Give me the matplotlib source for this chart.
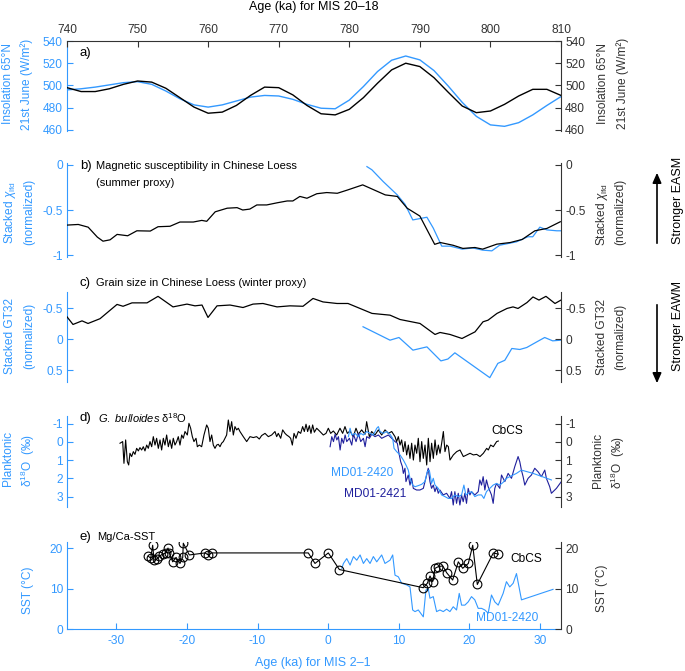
import matplotlib
matplotlib.use('Agg')
import matplotlib.pyplot as plt

plt.rcParams['font.family'] = ['Liberation Sans', 'DejaVu Sans']
plt.rcParams['mathtext.fontset'] = 'custom'
plt.rcParams['mathtext.rm'] = 'Liberation Sans'
plt.rcParams['mathtext.it'] = 'Liberation Sans:italic'
plt.rcParams['axes.unicode_minus'] = False

BLUE = '#3399ff'
NAVY = '#1f1f9c'
DARK = '#333333'

# ---- data (blue = MIS 2-1, bottom axis ; black = MIS 20-18, top axis)
# a) insolation 65N 21st June
ins_blue_age = [-37, -35, -33, -31, -29, -27, -25, -23, -21, -19, -17, -15, -13, -11, -9, -7, -5, -3,
                -1, 1, 3, 5, 7, 9, 11, 13, 15, 17, 19, 21, 23, 25, 27, 29, 31, 33]
ins_blue = [496, 497, 498.5, 500.5, 502.5, 503.4, 501, 495, 488, 482.5, 480.5, 482.5, 486, 489.5, 491, 490.5,
            487.5, 483, 479.5, 479, 486.8, 499, 512.5, 522.7, 526.5, 523, 513.4, 499.6, 484.8, 472.2, 464.5,
            463.2, 466.5, 473.5, 482, 490]
ins_black_age = [740, 742, 744, 746, 748, 750, 752, 754, 756, 758, 760, 762, 764, 766, 768, 770, 772, 774,
                 776, 778, 780, 782, 784, 786, 788, 790, 792, 794, 796, 798, 800, 802, 804, 806, 808, 810]
ins_black = [498, 494.5, 494.5, 497, 501, 504, 503, 497.5, 489, 480.5, 475, 476, 482, 491, 498.5, 498, 491.5,
             482, 474.5, 473.5, 478.5, 489, 502, 514, 520, 517, 507, 494, 481.5, 475.5, 477, 483, 490.5,
             496.5, 496.5, 491]

# b) magnetic susceptibility
chi_black_age = [740.0, 741.6, 743.0, 744.3, 745.1, 746.1, 747.1, 748.6, 749.9, 751.8, 752.9, 754.6, 756.0,
                 757.9, 759.1, 759.8, 761.0, 762.7, 764.1, 764.9, 765.9, 766.9, 768.3, 769.8, 771.2, 772.0,
                 773.0, 774.0, 775.4, 776.8, 778.3, 779.7, 781.9, 785.1, 786.8, 788.2, 790.0, 792.1, 792.9,
                 794.7, 796.1, 797.8, 798.9, 800.9, 802.8, 804.5, 806.3, 808.0, 809.9]
chi_black = [-0.667, -0.66, -0.69, -0.80, -0.845, -0.83, -0.77, -0.785, -0.73, -0.733, -0.685, -0.68, -0.633,
             -0.633, -0.615, -0.625, -0.52, -0.48, -0.474, -0.50, -0.49, -0.444, -0.444, -0.42, -0.40, -0.40,
             -0.35, -0.37, -0.32, -0.307, -0.315, -0.28, -0.222, -0.333, -0.35, -0.48, -0.567, -0.88, -0.86,
             -0.89, -0.925, -0.915, -0.933, -0.878, -0.86, -0.826, -0.73, -0.704, -0.63]
chi_blue_age = [5.5, 6.2, 7.8, 9.8, 10.9, 12.0, 14.0, 14.9, 16.1, 17.3, 19.0, 20.5, 21.9, 23.2, 24.3, 26.7,
                28.3, 29.0, 30.0, 31.0, 32.4, 33.0]
chi_blue = [-0.02, -0.055, -0.185, -0.333, -0.437, -0.61, -0.58, -0.70, -0.90, -0.90, -0.933, -0.92, -0.944,
            -0.952, -0.89, -0.852, -0.796, -0.796, -0.69, -0.72, -0.73, -0.73]

# c) grain size GT32
gs_black_age = [740.0, 740.85, 742.13, 742.98, 744.68, 747.09, 747.94, 749.21, 751.34, 752.9, 755.02, 757.0,
                758.14, 759.13, 759.98, 761.26, 763.1, 764.94, 766.36, 767.77, 769.76, 771.6, 773.44, 774.86,
                776.28, 778.26, 779.82, 783.22, 785.77, 787.19, 790.02, 792.15, 792.86, 794.27, 795.97, 797.82,
                798.95, 799.66, 800.93, 802.35, 803.2, 803.91, 805.18, 806.03, 806.88, 807.87, 809.15, 810.0]
gs_black = [-0.36, -0.237, -0.295, -0.253, -0.33, -0.56, -0.53, -0.585, -0.585, -0.69, -0.52, -0.565, -0.537,
            -0.55, -0.35, -0.537, -0.55, -0.51, -0.565, -0.575, -0.52, -0.537, -0.53, -0.656, -0.60, -0.575,
            -0.575, -0.415, -0.387, -0.317, -0.253, -0.076, -0.108, -0.076, -0.011, -0.118, -0.28, -0.306,
            -0.415, -0.495, -0.52, -0.495, -0.59, -0.68, -0.63, -0.69, -0.575, -0.63]
gs_blue_age = [4.95, 8.77, 10.04, 12.02, 14.0, 15.98, 16.97, 17.96, 22.91, 24.05, 25.04, 26.03, 27.16, 28.15,
               29.56, 30.69, 31.82, 32.96]
gs_blue = [-0.2, 0.016, -0.027, 0.177, 0.124, 0.35, 0.32, 0.22, 0.62, 0.39, 0.34, 0.15, 0.166, 0.134, 0.044,
           -0.027, 0.027, 0.016]

# d) planktonic d18O (age, value)
d18o_cbcs = [
    (747.51, 0.07), (747.89, -0.02), (748.07, 1.17), (748.31, -0.11), (748.55, 1.08), (748.74, 1.26),
    (748.92, 0.62), (749.16, 0.80), (749.40, 0.53), (749.63, 0.68), (749.87, 0.35), (750.11, 0.49),
    (750.34, 0.31), (750.58, 0.44), (750.81, 0.26), (751.05, 0.49), (751.29, 0.17), (751.52, 0.35),
    (751.76, -0.02), (752.00, 0.26), (752.23, -0.29), (752.47, 0.17), (752.70, -0.20), (752.94, 0.35),
    (753.18, -0.11), (753.41, 0.44), (753.65, -0.20), (753.88, 0.17), (754.12, -0.38), (754.36, 0.26),
    (754.59, -0.11), (754.83, 0.35), (755.06, -0.20), (755.30, 0.17), (755.54, -0.02), (755.77, -0.29),
    (756.01, 0.17), (756.25, -0.38), (756.48, -0.20), (756.72, -0.57), (757.05, -0.38), (757.28, -1.02),
    (757.52, -0.75), (757.76, -0.29), (757.99, -0.02), (758.28, -0.20), (758.47, 0.26), (758.75, 0.17),
    (759.08, 0.26), (759.41, -0.38), (759.79, -0.93), (760.02, -0.75), (760.26, -0.02), (760.50, -0.38),
    (760.73, 0.17), (760.97, 0.35), (761.21, 0.17), (761.44, 0.13), (761.68, 0.26), (761.91, 0.07),
    (762.15, -0.02), (762.39, -0.20), (762.62, -0.38), (762.86, -1.20), (763.10, -0.57), (763.33, -1.11),
    (763.57, -0.38), (763.80, -0.84), (764.04, -0.66), (764.28, -0.75), (764.51, -0.57), (764.98, -0.29),
    (765.46, -0.02), (765.93, -0.29), (766.40, -0.24), (766.87, -0.29), (767.25, -0.16), (767.58, -0.35),
    (768.06, -0.47), (768.53, -0.29), (769.00, -0.38), (769.47, -0.57), (769.71, -0.29), (769.94, -0.47),
    (770.28, -0.20), (770.56, -0.66), (770.89, -0.47), (771.13, -0.38), (771.46, -0.29), (771.69, -0.20),
    (771.93, 0.17), (772.17, -0.47), (772.45, -0.20), (772.78, -0.57), (773.11, -0.47), (773.39, -0.84),
    (773.63, -0.57), (773.87, -0.97), (774.10, -0.57), (774.34, -0.89), (774.57, -0.47), (774.81, -0.93),
    (775.05, -0.53), (775.38, -0.75), (775.85, -0.57), (776.32, -0.38), (776.70, -0.47), (777.03, -0.75),
    (777.36, -0.47), (777.74, -0.60), (778.21, -0.38), (778.68, -0.75), (779.06, -0.47), (779.39, -0.84),
    (779.72, -0.47), (780.10, -0.60), (780.57, -0.29), (780.95, -0.75), (781.28, -0.42), (781.75, -0.66),
    (782.23, -0.42), (782.46, -1.11), (782.84, -0.29), (783.17, -0.57), (783.64, -0.38), (784.12, -0.66),
    (784.59, -0.38), (785.06, -0.66), (785.53, -0.47), (786.01, -0.57), (786.48, -0.29), (786.71, -0.02),
    (786.95, -0.29), (787.19, 0.17), (787.42, -0.11), (787.66, 0.53), (787.90, -0.02), (788.13, 0.71),
    (788.37, 0.17), (788.60, 0.90), (788.84, 0.07), (789.08, 0.99), (789.31, 0.17), (789.55, 0.62),
    (789.78, -0.20), (790.02, 1.08), (790.26, -0.02), (790.49, 0.90), (790.73, 0.17), (790.97, 1.26),
    (791.20, -0.20), (791.44, 1.08), (791.67, 0.07), (791.91, 0.90), (792.15, -0.11), (792.38, 0.71),
    (792.62, 0.17), (792.86, 0.62), (793.09, 0.07), (793.33, -0.57), (793.56, 0.53), (793.80, 0.17),
    (794.04, 0.26), (794.27, 0.99), (794.74, 0.71), (795.22, 0.53), (795.69, 0.44), (796.16, 0.80),
    (796.63, 0.71), (797.11, 0.62), (797.58, 0.71), (798.05, 0.68), (798.52, 0.80), (799.00, 0.62),
    (799.47, 0.35), (799.70, 0.44), (800.03, 0.17), (800.41, 0.26), (800.88, -0.02), (801.12, -0.05)]

d18o_2421 = [
    (0.28, 0.26), (0.52, -0.29), (0.76, -0.02), (0.99, -0.42), (1.23, -0.11), (1.46, -0.29), (1.70, 0.44),
    (1.93, -0.20), (2.17, 0.07), (2.41, -0.38), (2.64, -0.02), (3.02, -0.20), (3.35, 0.17), (3.58, -0.42),
    (3.96, -0.02), (4.29, -0.47), (4.62, -0.02), (5.00, -0.20), (5.24, 0.26), (5.47, -0.29), (5.85, -0.20),
    (6.18, -0.42), (6.65, -0.29), (7.12, -0.38), (7.59, -0.20), (8.06, -0.29), (8.54, -0.38), (9.01, -0.20),
    (9.48, -0.02), (9.81, 0.07), (10.04, 0.62), (10.28, 1.08), (10.52, 1.35), (10.66, 1.72), (10.89, 1.44),
    (11.03, 2.17), (11.36, 1.81), (11.60, 2.36), (11.84, 1.99), (12.07, 2.54), (12.54, 2.63), (13.01, 2.63),
    (13.49, 2.54), (13.96, 1.81), (14.19, 1.44), (14.43, 2.17), (14.66, 2.54), (14.90, 2.36), (15.14, 2.72),
    (15.37, 2.45), (15.61, 2.81), (15.84, 2.63), (16.31, 2.90), (16.79, 2.81), (17.26, 3.09), (17.49, 2.72),
    (17.73, 3.45), (17.96, 2.72), (18.20, 3.36), (18.44, 2.81), (18.67, 3.45), (18.91, 2.90), (19.14, 3.27),
    (19.38, 2.81), (19.61, 3.36), (19.85, 2.54), (20.09, 2.90), (20.32, 2.72), (20.79, 2.90), (21.27, 2.72),
    (21.50, 2.08), (21.74, 2.36), (21.97, 1.90), (22.21, 2.63), (22.44, 2.08), (22.68, 2.45), (23.15, 2.90),
    (23.39, 3.36), (23.62, 2.54), (23.86, 2.27), (24.33, 2.54), (24.57, 1.81), (25.04, 2.17), (25.51, 1.72),
    (25.98, 1.99), (26.45, 1.35), (26.92, 0.80), (27.16, 1.08), (27.39, 1.54), (27.63, 1.90), (27.87, 2.36),
    (28.34, 1.99), (28.81, 1.81), (29.28, 1.44), (29.75, 1.63), (30.22, 1.90), (30.70, 1.54), (30.93, 1.99),
    (31.40, 2.45), (31.64, 2.81), (32.35, 2.54), (33.05, 2.17)]

d18o_2420 = [
    (2.88, -0.29), (3.11, -0.75), (3.35, -0.38), (3.82, -0.47), (4.29, -0.29), (4.62, -0.47), (5.00, -0.38),
    (5.47, -0.57), (5.94, -0.47), (6.41, -0.38), (6.89, -0.75), (7.12, -0.84), (7.36, -0.57), (7.83, -0.47),
    (8.30, -0.57), (8.77, -0.42), (9.15, -0.20), (9.34, 0.35), (9.71, 0.53), (10.19, 0.71), (10.66, 0.99),
    (11.03, 1.26), (11.36, 1.54), (11.60, 1.99), (11.98, 2.36), (12.31, 2.45), (12.78, 2.39), (13.25, 2.32),
    (13.72, 2.17), (14.05, 1.63), (14.34, 1.54), (14.66, 2.27), (14.90, 1.99), (15.14, 2.36), (15.61, 2.54),
    (16.08, 2.90), (16.55, 2.99), (17.02, 3.09), (17.49, 3.09), (17.96, 2.90), (18.44, 2.99), (18.91, 2.90),
    (19.24, 2.36), (19.52, 2.90), (19.85, 2.81), (20.32, 2.72), (20.79, 2.99), (21.27, 2.90), (21.74, 2.90),
    (22.07, 3.09), (22.44, 2.72), (22.91, 2.54), (23.39, 2.36), (23.86, 2.27), (24.33, 2.36), (24.80, 2.21),
    (25.27, 1.99), (25.74, 1.90), (26.22, 1.81), (26.69, 1.72), (27.39, 1.54), (29.05, 1.72), (31.64, 2.08)]

# e) Mg/Ca SST (age, value)
sst_cbcs = [
    (751.52, 18.0), (751.86, 17.5), (752.14, 20.7), (752.33, 17.0), (752.71, 17.2), (753.08, 18.0),
    (753.56, 18.5), (754.03, 18.8), (754.31, 20.0), (754.50, 18.7), (754.98, 16.6), (755.45, 17.7),
    (756.01, 16.2), (756.40, 17.7), (756.48, 21.2), (757.33, 18.3), (759.56, 18.8), (760.02, 18.3),
    (760.50, 18.8), (774.19, 18.8), (775.14, 16.2), (777.03, 18.8), (778.59, 14.7), (790.49, 10.2),
    (791.06, 11.3), (791.44, 13.1), (791.82, 11.7), (792.15, 15.0), (792.61, 15.4), (793.24, 15.6),
    (793.80, 13.9), (794.65, 12.1), (795.45, 16.6), (796.07, 15.0), (796.87, 16.2), (797.49, 20.7),
    (798.14, 11.0), (800.41, 18.8), (801.12, 18.5)]

sst_2420 = [
    (1.94, 15.0), (2.17, 16.2), (2.64, 17.4), (3.11, 15.8), (3.59, 17.9), (4.06, 17.0), (4.53, 18.3),
    (5.00, 16.2), (5.47, 17.4), (5.94, 16.2), (6.41, 17.9), (6.89, 16.6), (7.59, 18.3), (8.06, 16.2),
    (8.77, 17.0), (9.15, 18.3), (9.48, 13.3), (9.95, 12.9), (10.42, 11.3), (11.13, 10.9), (11.60, 10.4),
    (11.98, 4.7), (12.31, 4.3), (12.78, 4.7), (13.49, 3.0), (13.86, 9.6), (14.19, 10.0), (14.43, 7.6),
    (14.90, 8.0), (15.37, 4.3), (15.84, 4.7), (16.32, 4.3), (16.79, 4.9), (17.26, 4.3), (17.73, 5.5),
    (18.20, 4.7), (18.58, 8.8), (18.91, 5.9), (19.38, 5.9), (19.85, 6.7), (20.32, 8.0), (20.79, 7.2),
    (21.27, 5.1), (21.74, 5.1), (22.21, 4.7), (22.68, 3.9), (23.15, 8.4), (23.62, 6.7), (24.10, 5.9),
    (24.80, 8.8), (25.27, 11.7), (25.74, 10.4), (26.22, 11.3), (26.69, 13.7), (27.40, 7.2), (31.87, 9.8)]

# ticks
top_ticks = [740, 750, 760, 770, 780, 790, 800, 810]
bottom_ticks = [-30, -20, -10, 0, 10, 20, 30]
ins_ticks = [460, 480, 500, 520, 540]
chi_ticks = [-1, -0.5, 0]
chi_labels = ['-1', '-0.5', '0']
gs_ticks = [-0.5, 0, 0.5]
gs_labels = ['-0.5', '0', '0.5']
d18o_ticks = [-1, 0, 1, 2, 3]
sst_ticks = [0, 10, 20]

W, H = 685, 671
fig = plt.figure(figsize=(W / 100, H / 100), dpi=100)


def fx(px):
    return px / W


def fy(py):
    return 1 - py / H


def panel(top, bottom, ylim, yticks, ylabels=None):
    r = [fx(67), fy(bottom), 494 / W, (bottom - top) / H]
    axb = fig.add_axes(r)
    axk = fig.add_axes(r)
    for ax in (axb, axk):
        ax.patch.set_visible(False)
        for s in ax.spines.values():
            s.set_visible(False)
        ax.set_ylim(*ylim)
        ax.set_yticks(yticks)
        if ylabels is not None:
            ax.set_yticklabels(ylabels)
        ax.tick_params(axis='x', bottom=False, labelbottom=False, top=False, labeltop=False)
    axb.set_xlim(-37, 33)
    axk.set_xlim(740, 810)
    axb.spines['left'].set_visible(True)
    axb.spines['left'].set_color(BLUE)
    axb.tick_params(axis='y', direction='in', colors=BLUE, labelsize=8.6, length=4, width=0.8, pad=3)
    axk.spines['right'].set_visible(True)
    axk.spines['right'].set_color(DARK)
    axk.yaxis.tick_right()
    axk.tick_params(axis='y', direction='in', colors=DARK, labelsize=8.6, length=4, width=0.8, pad=3)
    return axb, axk


# a) insolation
axb, axk = panel(41, 131, (459, 540), ins_ticks)
axb.plot(ins_blue_age, ins_blue, color=BLUE, lw=1.0)
axk.plot(ins_black_age, ins_black, color='black', lw=1.0)
axk.spines['top'].set_visible(True)
axk.spines['top'].set_color(DARK)
axk.set_xticks(top_ticks)
axk.tick_params(axis='x', top=True, labeltop=True, direction='in', colors=DARK, labelsize=8.6,
                length=4, width=0.8, pad=3.5)

# b) chi
axb, axk = panel(163, 257, (-1.02, 0.02), chi_ticks, chi_labels)
axb.plot(chi_blue_age, chi_blue, color=BLUE, lw=0.9)
axk.plot(chi_black_age, chi_black, color='black', lw=0.9)

# c) grain size
axb, axk = panel(292, 382, (0.69, -0.76), gs_ticks, gs_labels)
axb.plot(gs_blue_age, gs_blue, color=BLUE, lw=0.9)
axk.plot(gs_black_age, gs_black, color='black', lw=0.9)

# d) d18O
axb, axk = panel(416, 507, (3.56, -1.42), d18o_ticks)
axb.set_zorder(3)
x, y = zip(*d18o_cbcs)
axk.plot(x, y, color='black', lw=0.8)
x, y = zip(*d18o_2421)
axb.plot(x, y, color=NAVY, lw=0.8)
x, y = zip(*d18o_2420)
axb.plot(x, y, color=BLUE, lw=0.8)

# e) SST
axb, axk = panel(542, 629, (0, 21.5), sst_ticks)
x, y = zip(*sst_2420)
axb.plot(x, y, color=BLUE, lw=0.8)
x, y = zip(*sst_cbcs)
axk.plot(x, y, color='black', lw=0.8, marker='o', ms=6.3, mfc='none', mec='black', mew=0.8)
axb.spines['bottom'].set_visible(True)
axb.spines['bottom'].set_color(BLUE)
axb.set_xticks(bottom_ticks)
axb.tick_params(axis='x', bottom=True, labelbottom=True, direction='in', colors=BLUE, labelsize=8.6,
                length=4, width=0.8, pad=4)

# axis titles
fig.text(fx(314), fy(7), 'Age (ka) for MIS 20\u201318', ha='center', va='center', fontsize=9)
fig.text(fx(313), fy(663), 'Age (ka) for MIS 2\u20131', ha='center', va='center', fontsize=9, color=BLUE)

ylab = dict(rotation=90, ha='center', va='center', fontsize=8.6)
left_labels = [
    (8, 83, 'Insolation 65\u00b0N'), (27, 84, '21st June (W/m\u00b2)'),
    (10, 212, r'Stacked $\chi_{\rm lfd}$'), (29, 212, '(normalized)'),
    (10, 336, 'Stacked GT32'), (29, 336, '(normalized)'),
    (8, 458, 'Planktonic'), (28, 460, '\u03b4$^{18}$O  (\u2030)'),
    (28, 590, 'SST (\u00b0C)'),
]
for px, py, s in left_labels:
    fig.text(fx(px), fy(py), s, color=BLUE, **ylab)
right_labels = [
    (603, 83, 'Insolation 65\u00b0N'), (623, 83, '21st June (W/m\u00b2)'),
    (602, 214, r'Stacked $\chi_{\rm lfd}$'), (620, 212, '(normalized)'),
    (602, 337, 'Stacked GT32'), (620, 337, '(normalized)'),
    (598, 460, 'Planktonic'), (618, 462, '\u03b4$^{18}$O  (\u2030)'),
    (602, 588, 'SST (\u00b0C)'),
]
for px, py, s in right_labels:
    fig.text(fx(px), fy(py), s, color=DARK, **ylab)

# panel titles
letters = [(80, 53, 'a)'), (80, 166, 'b)'), (80, 283, 'c)'), (80, 418, 'd)'), (80, 537, 'e)')]
for px, py, s in letters:
    fig.text(fx(px), fy(py), s, ha='left', va='center', fontsize=9.5)
fig.text(fx(96), fy(166), 'Magnetic susceptibility in Chinese Loess', ha='left', va='center', fontsize=8)
fig.text(fx(96), fy(183), '(summer proxy)', ha='left', va='center', fontsize=8)
fig.text(fx(96), fy(283), 'Grain size in Chinese Loess (winter proxy)', ha='left', va='center', fontsize=8)
fig.text(fx(98), fy(418), '$\\mathit{G.\\ bulloides}$ \u03b4$^{18}$O', ha='left', va='center', fontsize=8)
fig.text(fx(97), fy(537), 'Mg/Ca-SST', ha='left', va='center', fontsize=8)

# series labels
fig.text(fx(507), fy(431), 'CbCS', ha='center', va='center', fontsize=8.6)
fig.text(fx(362), fy(473), 'MD01-2420', ha='center', va='center', fontsize=8.6, color=BLUE)
fig.text(fx(375), fy(494), 'MD01-2421', ha='center', va='center', fontsize=8.6, color=NAVY)
fig.text(fx(526), fy(559), 'CbCS', ha='center', va='center', fontsize=8.6)
fig.text(fx(507), fy(618), 'MD01-2420', ha='center', va='center', fontsize=8.6, color=BLUE)

# monsoon arrows
arrow = dict(arrowstyle='-|>,head_length=0.5,head_width=0.22', color='black', lw=1.2)
fig.add_artist(matplotlib.patches.FancyArrowPatch((fx(657), fy(246)), (fx(657), fy(170)),
                                                  transform=fig.transFigure, mutation_scale=12, **arrow))
fig.add_artist(matplotlib.patches.FancyArrowPatch((fx(657), fy(302)), (fx(657), fy(386)),
                                                  transform=fig.transFigure, mutation_scale=12, **arrow))
fig.text(fx(678), fy(200), 'Stronger EASM', rotation=90, ha='center', va='center', fontsize=9)
fig.text(fx(678), fy(326), 'Stronger EAWM', rotation=90, ha='center', va='center', fontsize=9)

fig.savefig('out.png', dpi=100, facecolor='white')
